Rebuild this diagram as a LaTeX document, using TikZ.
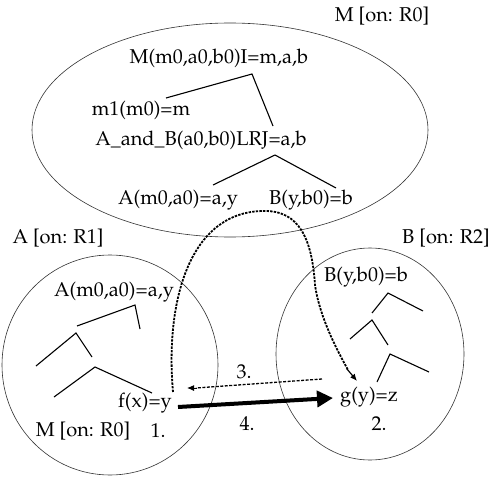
\documentclass[tikz,border=0pt]{standalone}
\usepackage[T1]{fontenc}
\usepackage{mathpazo}
\usetikzlibrary{arrows.meta}
\begin{document}
\begin{tikzpicture}[x=1pt,y=-1pt,
  lbl/.style={inner sep=0pt,font=\fontsize{20}{23}\selectfont},
  region/.style={draw=black!80,line width=0.6pt},
  branch/.style={line width=1.1pt},
  dotpath/.style={line width=1.8pt,dash pattern=on 2.4pt off 1.2pt},
  dashpath/.style={line width=1.3pt,dash pattern=on 3pt off 1.5pt}]
\useasboundingbox (0,0) rectangle (500,476);
% regions
\draw[region] (230,130) ellipse [x radius=198, y radius=107];
\draw[region] (110,365) ellipse [x radius=108, y radius=110];
\draw[region] (370,354) ellipse [x radius=94, y radius=106];
% top labels
\node[lbl] (mr0) at (382,16) {M [on: R0]};
\node[lbl] (ar1) at (58,238) {A [on: R1]};
\node[lbl] (br2) at (446,238) {B [on: R2]};
% M tree
\node[lbl] (mroot) at (219,58) {M(m0,a0,b0)I=m,a,b};
\node[lbl] (m1) at (141,110) {m1(m0)=m};
\node[lbl] (ab) at (201,140) {A\_and\_B(a0,b0)LRJ=a,b};
\node[lbl] (am) at (178,200) {A(m0,a0)=a,y};
\node[lbl] (bm) at (311,200) {B(y,b0)=b};
\draw[branch] (166,98) -- (252,74) -- (273,126);
\draw[branch] (213,185) -- (275,155) -- (336,188);
% A region
\node[lbl] (aa) at (114,292) {A(m0,a0)=a,y};
\draw[branch] (77,326) -- (135,305) -- (140,329);
\draw[branch] (36,366) -- (76,333) -- (92,357);
\draw[branch] (54,397) -- (95,367) -- (152,393);
\node[lbl] (f) at (145,403) {f(x)=y};
\node[lbl] (mr0b) at (83,431) {M [on: R0]};
\node[lbl] (n1) at (158,431) {1.};
% B region
\node[lbl] (bb) at (366,277) {B(y,b0)=b};
\draw[branch] (372,313) -- (388,293) -- (423,311);
\draw[branch] (350,339) -- (372,320) -- (388,345);
\draw[branch] (377,382) -- (390,354) -- (429,372);
\node[lbl] (g) at (369,397) {g(y)=z};
\node[lbl] (n2) at (379,424) {2.};
\node[lbl] (n3) at (244,372) {3.};
\node[lbl] (n4) at (247,424) {4.};
% connectors
\coordinate (fs) at (173,392);
\coordinate (top) at (263,211);
\coordinate (ge) at (357,381);
\draw[dotpath] (fs) .. controls (165,300) and (190,212) .. (top)
  .. controls (300,210) and (312,240) .. (315,285)
  .. controls (320,320) and (340,355) .. (348,370);
\draw[line width=1.2pt,-{Latex[length=7pt,width=6pt]}] (347,369) -- (ge);
\coordinate (d3s) at (322,379);
\coordinate (d3e) at (187,388);
\draw[dashpath] (d3s) -- (196,388);
\draw[line width=1pt,-{Latex[length=7pt,width=6pt]}] (197,388) -- (d3e);
\coordinate (a4s) at (178,407);
\coordinate (a4e) at (333,398);
\draw[line width=4pt,-{Triangle[length=16pt,width=16pt]}] (a4s) -- (a4e);
\end{tikzpicture}
\end{document}
